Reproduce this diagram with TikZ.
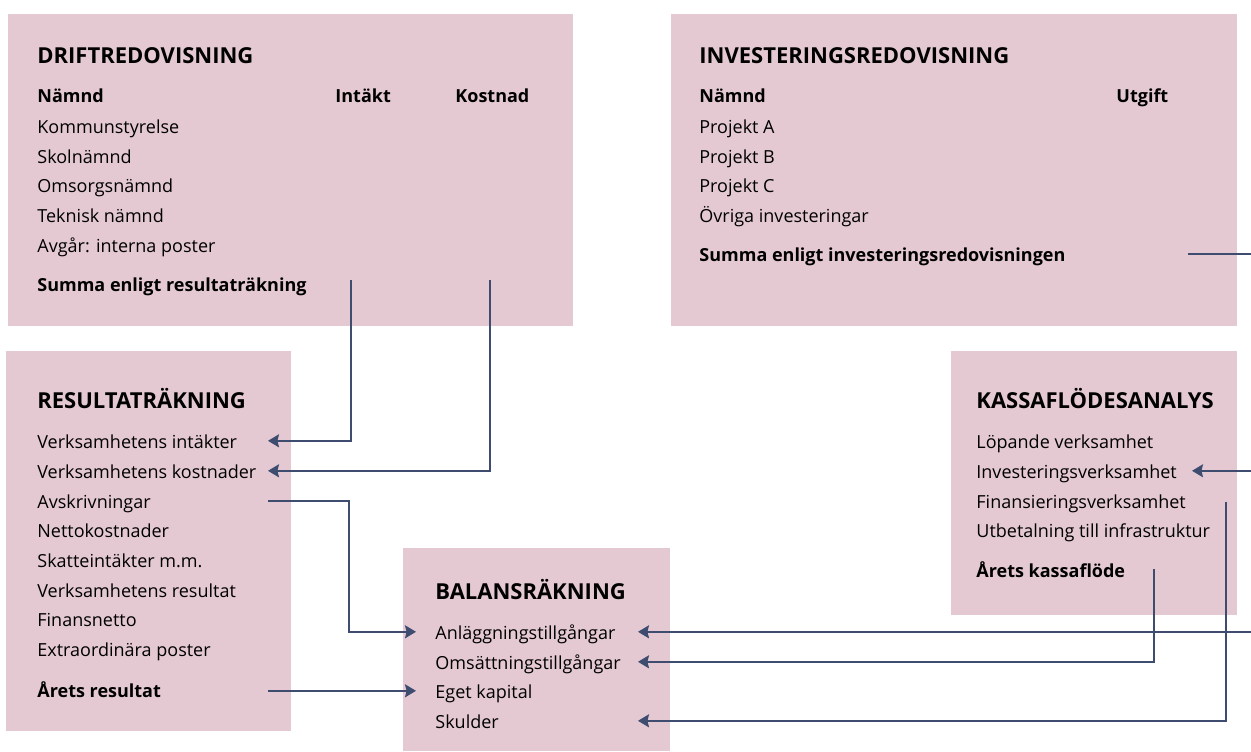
\documentclass[tikz,border=0pt]{standalone}
\usepackage{fontspec}
\setmainfont{Open Sans}
\usepackage{xcolor}
\usepackage{tikz}
\usetikzlibrary{positioning,calc,arrows.meta}

\definecolor{panelpink}{HTML}{E4C9D3}
\definecolor{linkblue}{HTML}{3E4C70}

\tikzset{
  panel/.style={fill=panelpink, draw=none},
  heading/.style={anchor=base west, inner sep=0pt, font=\bfseries\fontsize{11}{13}\selectfont},
  item/.style={anchor=base west, inner sep=0pt, text height=7.2pt, text depth=0pt, font=\fontsize{9}{11}\selectfont},
  itembold/.style={item, font=\bfseries\fontsize{9}{11}\selectfont},
  link/.style={draw=linkblue, line width=0.85pt},
  flow/.style={link, -{Stealth[length=5.5pt,width=6.5pt,inset=0.8pt]}}
}

\begin{document}
\begin{tikzpicture}[x=0.5pt,y=-0.5pt]
    \useasboundingbox (0,0) rectangle (1251,751);

    % Panels
    \path[panel] (8,14) rectangle (573,326);
    \path[panel] (671,14) rectangle (1237,326);
    \path[panel] (6,351) rectangle (291,731);
    \path[panel] (403,548) rectangle (670,751);
    \path[panel] (951,351) rectangle (1237,615);

    % Driftredovisning
    \node [heading] (dr) at (37,63) {DRIFTREDOVISNING};
    \node [itembold] (drnamnd) at (37,102) {Nämnd};
    \node [itembold] (drintakt) at (335,102) {Intäkt};
    \node [itembold] (drkostnad) at (455,102) {Kostnad};
    \node [item] (dr1) at (37,133) {Kommunstyrelse};
    \node [item] (dr2) at (37,163) {Skolnämnd};
    \node [item] (dr3) at (37,192) {Omsorgsnämnd};
    \node [item] (dr4) at (37,222) {Teknisk nämnd};
    \node [item] (dr5) at (37,252) {Avgår: interna poster};
    \node [itembold] (drsum) at (37,291) {Summa enligt resultaträkning};

    % Investeringsredovisning
    \node [heading] (ir) at (699,63) {INVESTERINGSREDOVISNING};
    \node [itembold] (irnamnd) at (699,102) {Nämnd};
    \node [itembold] (irutgift) at (1116,102) {Utgift};
    \node [item] (ir1) at (699,133) {Projekt A};
    \node [item] (ir2) at (699,163) {Projekt B};
    \node [item] (ir3) at (699,192) {Projekt C};
    \node [item] (ir4) at (699,222) {Övriga investeringar};
    \node [itembold] (irsum) at (699,261) {Summa enligt investeringsredovisningen};

    % Resultaträkning
    \node [heading] (rr) at (37,408) {RESULTATRÄKNING};
    \node [item] (rrint) at (37,448) {Verksamhetens intäkter};
    \node [item] (rrkost) at (37,478) {Verksamhetens kostnader};
    \node [item] (rravskr) at (37,508) {Avskrivningar};
    \node [item] (rrnetto) at (37,537) {Nettokostnader};
    \node [item] (rrskatt) at (37,567) {Skatteintäkter m.m.};
    \node [item] (rrverks) at (37,597) {Verksamhetens resultat};
    \node [item] (rrfin) at (37,626) {Finansnetto};
    \node [item] (rrextra) at (37,656) {Extraordinära poster};
    \node [itembold] (rrres) at (37,697) {Årets resultat};

    % Balansräkning
    \node [heading] (br) at (435,599) {BALANSRÄKNING};
    \node [item] (branl) at (435,639) {Anläggningstillgångar};
    \node [item] (broms) at (435,669) {Omsättningstillgångar};
    \node [item] (breget) at (435,698) {Eget kapital};
    \node [item] (brskuld) at (435,728) {Skulder};

    % Kassaflödesanalys
    \node [heading] (kf) at (976,408) {KASSAFLÖDESANALYS};
    \node [item] (kflop) at (976,448) {Löpande verksamhet};
    \node [item] (kfinv) at (976,478) {Investeringsverksamhet};
    \node [item] (kffin) at (976,508) {Finansieringsverksamhet};
    \node [item] (kfutb) at (976,537) {Utbetalning till infrastruktur};
    \node [itembold] (kfar) at (976,577) {Årets kassaflöde};

    % Connector ends
    \coordinate (drintend) at (351,280);
    \coordinate (drkostend) at (490,280);
    \coordinate (irsumend) at (1188,0);
    \coordinate (kfarend) at (1154,569);
    \coordinate (kffinend) at (1226,502);
    \coordinate (rrcol) at (268,0);
    \coordinate (rrbend) at (349,0);
    \coordinate (brleft) at (416,0);
    \coordinate (brright) at (638,0);
    \coordinate (kfcol) at (1192,0);
    \coordinate (edge) at (1251,0);

    % Connectors
    \draw [flow] (drintend) |- (rrcol |- rrint);
    \draw [flow] (drkostend) |- (rrcol |- rrkost);
    \draw [flow] (rrcol |- rravskr) -- (rrbend |- rravskr) |- (brleft |- branl);
    \draw [flow] (rrcol |- breget) -- (brleft |- breget);
    \draw [flow] (edge |- branl) -- (brright |- branl);
    \draw [flow] (kfarend) |- (brright |- broms);
    \draw [flow] (kffinend) |- (brright |- brskuld);
    \draw [link] (irsumend |- irsum) -- (edge |- irsum);
    \draw [flow] (edge |- kfinv) -- (kfcol |- kfinv);

\end{tikzpicture}
\end{document}
